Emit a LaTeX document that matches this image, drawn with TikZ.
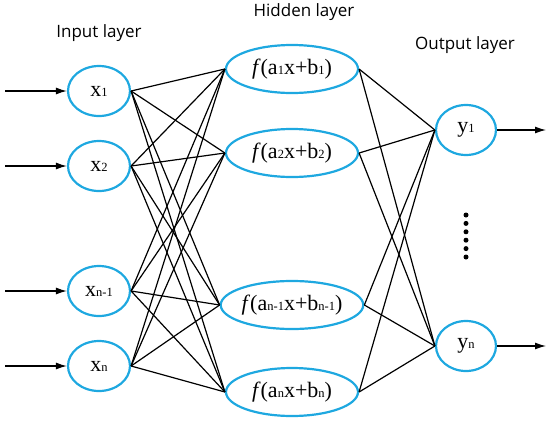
\documentclass[tikz,border=0pt]{standalone}
\usepackage{fontspec}
\setmainfont{Liberation Serif}
\newfontfamily\labelfont{Open Sans}
\usetikzlibrary{shapes.geometric}
\usetikzlibrary{arrows.meta}
\definecolor{neuronblue}{RGB}{30,168,224}
\newcommand{\low}[1]{{\fontsize{12.5}{12.5}\selectfont #1}}
\tikzset{
  neuron/.style = {ellipse, draw=neuronblue, line width=2.2pt, inner sep=0pt,
    font=\fontsize{22}{24}\selectfont},% cellule de base
  in_node/.style = {neuron, minimum width=62pt, minimum height=50pt},% couche d'entree
  hid_node/.style = {neuron, minimum width=132pt, minimum height=48pt},% couche cachee
  out_node/.style = {neuron, minimum width=60pt, minimum height=50pt},% couche de sortie
  layer_label/.style = {font=\labelfont\fontsize{17}{20}\selectfont},
  link/.style = {draw=black, line width=1.2pt},
  feed/.style = {draw=black, line width=1.2pt, -{Latex[length=11pt,width=7pt]}}
}
\begin{document}
\begin{tikzpicture}[x=1pt, y=-1pt]
  \useasboundingbox (0,0) rectangle (550,421);
  % titres
  \node [layer_label] (in_title) at (99,33) {Input layer};
  \node [layer_label] (hid_title) at (304,12) {Hidden layer};
  \node [layer_label] (out_title) at (465,45) {Output layer};
  % couche d'entree
  \node [in_node] (x1) at (99,91) {x\low{1}};
  \node [in_node] (x2) at (99,166) {x\low{2}};
  \node [in_node] (x3) at (99,291) {x\low{n-1}};
  \node [in_node] (x4) at (99,366) {x\low{n}};
  % couche cachee
  \node [hid_node] (h1) at (292,69) {\textit{f}(a\low{1}x+b\low{1})};
  \node [hid_node] (h2) at (292,153) {\textit{f}(a\low{2}x+b\low{2})};
  \node [hid_node] (h3) at (292,305) {\textit{f}(a\low{n-1}x+b\low{n-1})};
  \node [hid_node] (h4) at (292,392) {\textit{f}(a\low{n}x+b\low{n})};
  % couche de sortie
  \node [out_node] (y1) at (466,130) {y\low{1}};
  \node [out_node] (y2) at (466,346) {y\low{n}};
  % connexions
  \foreach \i in {x1,x2,x3,x4}
    \foreach \j in {h1,h2,h3,h4}
      \draw [link] (\i.east) -- (\j.west);
  \foreach \j in {h1,h2,h3,h4}
    \foreach \k in {y1,y2}
      \draw [link] (\j.east) -- (\k.west);
  % entrees et sorties
  \foreach \i/\y in {1/91,2/166,3/291,4/366} {
    \coordinate (in\i) at (5,\y);
    \draw [feed] (in\i) -- (x\i);
  }
  \coordinate (out1) at (546,130);
  \coordinate (out2) at (546,346);
  \draw [feed] (y1) -- (out1);
  \draw [feed] (y2) -- (out2);
  % points de suspension
  \foreach \d in {0,...,5}
    \fill (466,215+8.4*\d) circle (2.5pt);
\end{tikzpicture}
\end{document}
